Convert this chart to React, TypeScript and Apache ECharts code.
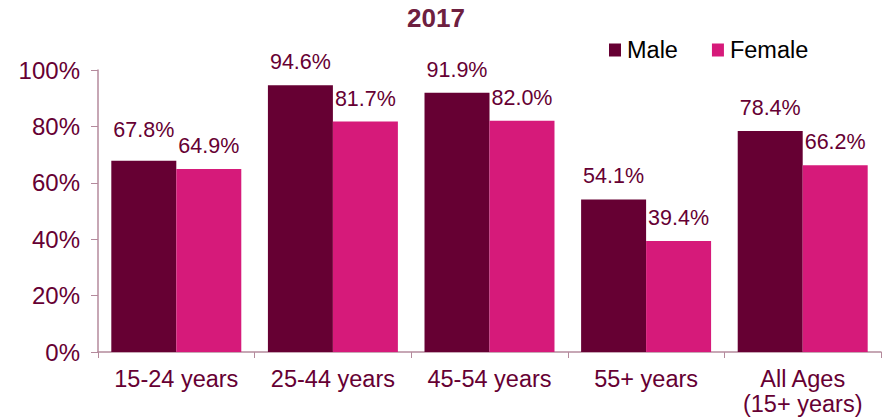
import React, { useEffect, useRef } from "react";
import * as echarts from "echarts";

const categories = ["15-24 years", "25-44 years", "45-54 years", "55+ years", "All Ages\n(15+ years)"];
const maleValues = [67.8, 94.6, 91.9, 54.1, 78.4];
const femaleValues = [64.9, 81.7, 82.0, 39.4, 66.2];
const titleText = "2017";

const FONT = "'Liberation Sans', Arial, sans-serif";
const MAROON = "#660033";
const PINK = "#D61A7A";
const AXIS = "#B48A9C";

export default function App() {
  const ref = useRef<HTMLDivElement>(null);
  useEffect(() => {
    document.body.style.margin = "0";
    document.body.style.overflow = "hidden";
    if (!ref.current) return;
    const chart = echarts.init(ref.current, undefined, { renderer: "svg" });
    const label = {
      show: true,
      position: "top" as const,
      distance: 12,
      color: MAROON,
      fontSize: 21.5,
      fontFamily: FONT,
      formatter: (p: any) => p.value.toFixed(1) + "%",
    };
    chart.setOption({
      animation: false,
      textStyle: { fontFamily: FONT },
      title: {
        text: titleText,
        left: 402,
        top: 0,
        textStyle: { fontSize: 26, fontWeight: "bold", color: "#6E2040", fontFamily: FONT },
      },
      legend: {
        left: 604,
        top: 33,
        itemWidth: 12,
        itemHeight: 13,
        itemGap: 34,
        icon: "rect",
        textStyle: { fontSize: 23.5, color: "#000", fontFamily: FONT, padding: [0, 0, 0, 1] },
        data: ["Male", "Female"],
      },
      grid: { left: 98, right: 8, top: 70, bottom: 68, containLabel: false },
      xAxis: {
        type: "category",
        data: categories,
        axisLine: { lineStyle: { color: AXIS, width: 1.5 } },
        axisTick: { show: true, length: 6, lineStyle: { color: AXIS } },
        axisLabel: { interval: 0, color: MAROON, fontSize: 23.5, fontFamily: FONT, margin: 14, lineHeight: 25 },
      },
      yAxis: {
        type: "value",
        min: 0,
        max: 100,
        interval: 20,
        splitLine: { show: false },
        axisLine: { show: true, lineStyle: { color: AXIS, width: 1.5 } },
        axisTick: { show: true, length: 7, lineStyle: { color: AXIS } },
        axisLabel: { color: MAROON, fontSize: 24, fontFamily: FONT, margin: 18, formatter: "{value}%" },
      },
      series: [
        {
          name: "Male",
          type: "bar",
          data: maleValues.map((v, i) => (i === 0 ? { value: v, label: { distance: 20 } } : v)),
          itemStyle: { color: MAROON },
          barGap: "0%",
          barCategoryGap: "17%",
          label,
        },
        {
          name: "Female",
          type: "bar",
          data: femaleValues,
          itemStyle: { color: PINK },
          label,
        },
      ],
    });
    return () => chart.dispose();
  }, []);
  return <div ref={ref} style={{ width: 889, height: 420 }} />;
}
